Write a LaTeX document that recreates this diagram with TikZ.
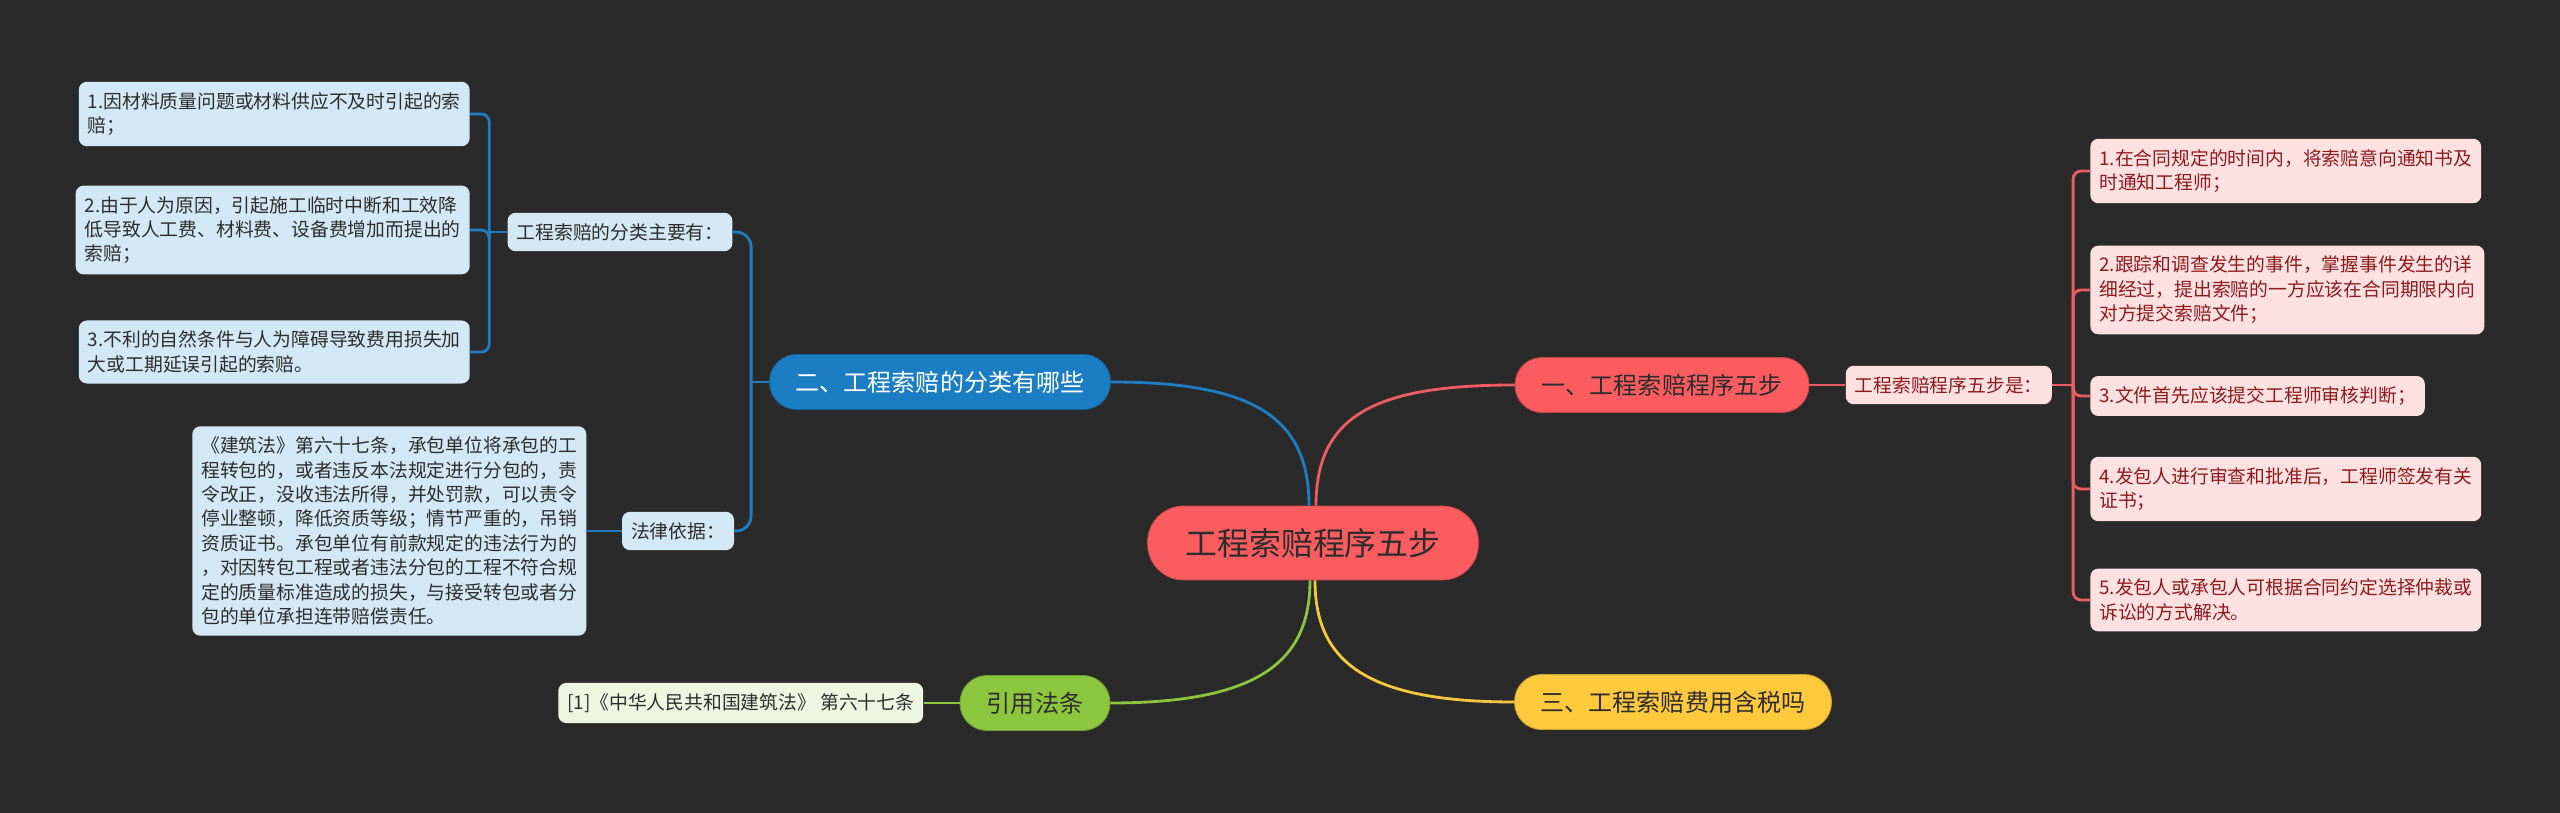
\documentclass[tikz,border=0pt]{standalone}
\usepackage{fontspec}
\newfontfamily\cjk{Noto Sans CJK SC}
\usepackage{xcolor}
\usepackage{tikz}
\usetikzlibrary{positioning, calc}

\definecolor{bgdark}{HTML}{2A2A2A}
\definecolor{rootred}{HTML}{FA5C60}
\definecolor{rootedge}{HTML}{C8474B}
\definecolor{blueb}{HTML}{1B7EC2}
\definecolor{yellowb}{HTML}{FFC93E}
\definecolor{greenb}{HTML}{8CC63E}
\definecolor{pinkleaf}{HTML}{FDE1E1}
\definecolor{blueleaf}{HTML}{D3E7F4}
\definecolor{greenleaf}{HTML}{EEF6E1}
\definecolor{redtext}{HTML}{8A1B1F}
\definecolor{darktext}{HTML}{2D2D2D}
\definecolor{redline}{HTML}{EC5D61}
\definecolor{blueline}{HTML}{1F7EC1}
\definecolor{greenline}{HTML}{8CC63E}
\definecolor{yellowline}{HTML}{F6C83F}

\begin{document}
\begin{tikzpicture}[
    x=0.02cm, y=-0.02cm,
    topic/.style={rounded corners=0.72cm, minimum width=6.62cm, minimum height=1.48cm, font=\cjk\fontsize{18.2pt}{22pt}\selectfont},
    branch/.style={rounded corners=0.54cm, minimum height=1.1cm, line width=0.5pt, font=\cjk\fontsize{13.7pt}{16pt}\selectfont},
    leaf/.style={rounded corners=0.16cm, align=left, inner xsep=0.18cm, inner ysep=0.21cm, font=\cjk\fontsize{10.7pt}{13.9pt}\selectfont},
    redleaf/.style={leaf, fill=pinkleaf, text=redtext},
    blueleaf/.style={leaf, fill=blueleaf, text=darktext},
    greenleaf/.style={leaf, fill=greenleaf, text=darktext},
    link/.style={line width=1.6pt}
]
    \useasboundingbox (0,0) rectangle (2560,813);
    \fill[bgdark] (0,0) rectangle (2560,813);

    % centre and main branches
    \node[topic, fill=rootred, draw=rootedge, text=darktext] (root) at (1313,543) {工程索赔程序五步};
    \node[branch, fill=rootred, draw=rootedge, text=darktext, minimum width=5.88cm] (b1) at (1662,385) {一、工程索赔程序五步};
    \node[branch, fill=blueb, draw=blueb!80!black, text=white, minimum width=6.82cm] (b2) at (940,382) {二、工程索赔的分类有哪些};
    \node[branch, fill=yellowb, draw=yellowb!80!black, text=darktext, minimum width=6.34cm] (b3) at (1673,702) {三、工程索赔费用含税吗};
    \node[branch, fill=greenb, draw=greenb!80!black, text=darktext, minimum width=3.0cm] (b4) at (1035,703) {引用法条};

    % branch one
    \node[redleaf, right=0.72cm of b1] (r0) {工程索赔程序五步是：};
    \node[redleaf, anchor=west] (r1) at (2090,171) {1.在合同规定的时间内，将索赔意向通知书及\\时通知工程师；};
    \node[redleaf, anchor=west] (r2) at (2090,290) {2.跟踪和调查发生的事件，掌握事件发生的详\\细经过，提出索赔的一方应该在合同期限内向\\对方提交索赔文件；};
    \node[redleaf, anchor=west] (r3) at (2090,396) {3.文件首先应该提交工程师审核判断；};
    \node[redleaf, anchor=west] (r4) at (2090,489) {4.发包人进行审查和批准后，工程师签发有关\\证书；};
    \node[redleaf, anchor=west] (r5) at (2090,600) {5.发包人或承包人可根据合同约定选择仲裁或\\诉讼的方式解决。};

    % branch two
    \node[blueleaf] (c1) at (620,232) {工程索赔的分类主要有：};
    \node[blueleaf] (c2) at (678,531) {法律依据：};
    \node[blueleaf, anchor=east] (bl1) at (470,114) {1.因材料质量问题或材料供应不及时引起的索\\赔；};
    \node[blueleaf, anchor=east] (bl2) at (470,230) {2.由于人为原因，引起施工临时中断和工效降\\低导致人工费、材料费、设备费增加而提出的\\索赔；};
    \node[blueleaf, anchor=east] (bl3) at (470,352) {3.不利的自然条件与人为障碍导致费用损失加\\大或工期延误引起的索赔。};
    \node[blueleaf, left=0.7cm of c2] (law) {《建筑法》第六十七条，承包单位将承包的工\\程转包的，或者违反本法规定进行分包的，责\\令改正，没收违法所得，并处罚款，可以责令\\停业整顿，降低资质等级；情节严重的，吊销\\资质证书。承包单位有前款规定的违法行为的\\，对因转包工程或者违法分包的工程不符合规\\定的质量标准造成的损失，与接受转包或者分\\包的单位承担连带赔偿责任。};

    % branch four
    \node[greenleaf, left=0.72cm of b4] (cite) {[1]《中华人民共和国建筑法》 第六十七条};

    % connectors from the centre
    \draw[link, blueline] ($(root.north)+(-4,0)$) .. controls +(0,-90) and +(140,0) .. (b2.east);
    \draw[link, redline] ($(root.north)+(3,0)$) .. controls +(0,-90) and +(-140,0) .. (b1.west);
    \draw[link, greenline] ($(root.south)+(-3,0)$) .. controls +(0,80) and +(150,0) .. (b4.east);
    \draw[link, yellowline] ($(root.south)+(2,0)$) .. controls +(0,80) and +(-150,0) .. (b3.west);

    % red side
    \draw[link, redline] (b1.east) -- (r0.west);
    \draw[link, redline] (r0.east) -- ++(21,0);
    \foreach \i in {1,...,5}
        \draw[link, redline, rounded corners=0.16cm] ($(r0.east)+(21,0)$) |- (r\i.west);

    % blue side
    \draw[link, blueline] (b2.west) -- ++(-18,0);
    \foreach \n in {c1,c2}
        \draw[link, blueline, rounded corners=0.3cm] ($(b2.west)+(-18,0)$) |- (\n.east);
    \draw[link, blueline] (c1.west) -- ++(-18,0);
    \foreach \i in {1,2,3}
        \draw[link, blueline, rounded corners=0.16cm] ($(c1.west)+(-18,0)$) |- (bl\i.east);
    \draw[link, blueline] (c2.west) -- (law.east);

    % green side
    \draw[link, greenline] (b4.west) -- (cite.east);
\end{tikzpicture}
\end{document}
